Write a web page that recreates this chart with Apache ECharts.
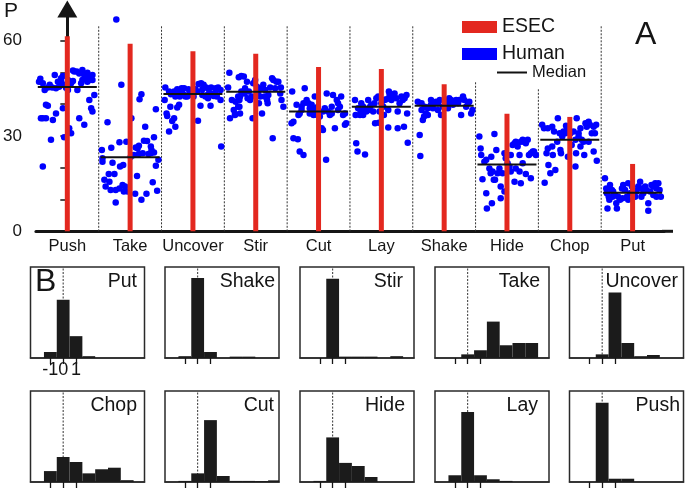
<!DOCTYPE html>
<html>
<head>
<meta charset="utf-8">
<script src="https://cdn.jsdelivr.net/npm/echarts@6/dist/echarts.min.js"></script>
<style>
html,body{margin:0;padding:0;background:#fff;}
#chart{width:685px;height:489px;}
</style>
</head>
<body>
<div id="chart"></div>
<script>
const FONT = '"Liberation Sans", Arial, Helvetica, sans-serif';
const INK = '#151515';

// ---------- Panel A data ----------
const categories = ['Push','Take','Uncover','Stir','Cut','Lay','Shake','Hide','Chop','Put'];
const esecValues = [61.4, 59.0, 56.7, 55.9, 51.7, 51.1, 46.3, 37.0, 36.0, 21.2];
const medianValues = [45.4, 23.3, 43.2, 43.9, 37.7, 39.2, 39.5, 21.0, 28.8, 12.1];
const dividerTops = [64.9, 64.9, 64.9, 64.9, 64.9, 64.9, 47.0, 45.1, 64.9];
const yTickValues = [0, 10, 20, 30, 40, 50, 60];
const yTickLabels = [0, 30, 60];

// human scores per action: [offset within category, P]
const humanPush = [[-0.43,48.0],[-0.45,47.1],[-0.39,46.6],[-0.36,44.5],[-0.28,46.1],[-0.20,49.2],[-0.15,47.1],[-0.10,48.2],[-0.07,48.9],[-0.13,45.5],[-0.18,45.0],[-0.24,45.3],[-0.31,45.3],[-0.05,46.1],[0.03,47.1],[0.09,50.6],[0.11,50.3],[0.15,50.3],[0.19,49.7],[0.24,50.8],[0.27,49.2],[0.32,49.9],[0.36,48.7],[0.40,49.2],[0.35,47.6],[0.30,48.2],[0.22,46.6],[0.16,44.5],[0.09,47.3],[0.06,46.6],[0.01,44.5],[-0.02,45.2],[0.43,42.9],[0.35,41.3],[0.38,38.7],[0.40,37.7],[0.27,33.5],[0.19,35.6],[0.03,32.4],[0.06,30.9],[-0.05,29.6],[-0.07,38.7],[-0.18,37.1],[-0.34,39.8],[-0.31,39.5],[-0.39,35.6],[-0.34,35.6],[-0.23,35.0],[-0.26,28.8],[-0.39,20.4],[-0.42,35.6],[-0.10,47.1],[0.01,47.6],[0.32,47.1],[0.40,47.6],[0.24,47.6]];
const humanTake = [[-0.22,66.7],[-0.14,46.1],[0.18,43.1],[0.15,41.6],[0.41,38.4],[0.02,35.6],[-0.36,34.3],[0.24,32.9],[-0.17,28.0],[-0.06,28.2],[0.09,26.4],[0.14,26.9],[0.12,26.1],[0.22,28.5],[0.27,28.4],[0.33,26.7],[0.38,29.6],[0.34,25.6],[-0.45,25.6],[-0.44,23.0],[-0.30,26.3],[-0.28,21.6],[-0.41,16.2],[-0.34,18.0],[-0.25,18.0],[-0.33,15.6],[-0.39,14.1],[-0.31,13.0],[-0.23,13.0],[-0.17,13.5],[-0.12,14.6],[-0.08,14.1],[-0.04,12.5],[-0.10,12.5],[0.08,11.8],[0.18,9.9],[0.26,11.8],[-0.23,9.1],[0.01,23.5],[0.06,24.0],[0.14,24.3],[0.20,24.6],[0.29,24.3],[0.33,24.6],[0.38,24.8],[0.41,20.6],[0.45,22.5],[0.43,12.8],[0.36,15.4],[-0.16,20.4],[-0.11,20.9],[0.11,17.4],[-0.44,21.9]];
const humanUncover = [[-0.44,45.3],[-0.45,41.3],[-0.42,37.1],[-0.38,31.4],[-0.41,36.3],[-0.36,39.2],[-0.33,34.7],[-0.30,35.6],[-0.28,32.9],[-0.25,39.0],[-0.22,39.8],[-0.35,43.1],[-0.30,44.0],[-0.25,44.7],[-0.17,44.5],[-0.14,42.9],[-0.12,42.4],[-0.18,45.0],[-0.22,43.7],[-0.09,42.4],[-0.07,42.9],[-0.04,44.0],[-0.01,44.5],[0.04,44.7],[0.09,46.4],[0.13,46.6],[0.17,46.1],[0.21,45.3],[0.25,44.7],[0.29,45.3],[0.36,45.0],[0.40,45.3],[0.44,44.5],[0.38,42.4],[0.33,42.6],[0.28,43.4],[0.23,42.9],[0.15,42.9],[0.07,44.0],[0.01,42.4],[0.08,34.8],[0.12,39.5],[0.28,39.5],[0.44,41.3],[0.45,26.7],[0.20,42.4],[-0.28,42.4],[-0.21,42.4],[-0.38,44.0],[-0.14,45.0],[-0.07,44.7],[0.24,41.9],[0.15,44.7],[0.36,43.7]];
const humanStir = [[-0.42,49.9],[-0.44,45.3],[-0.38,41.3],[-0.35,38.2],[-0.41,35.6],[-0.33,36.9],[-0.26,39.2],[-0.25,37.1],[-0.27,48.5],[-0.23,48.9],[-0.32,40.8],[-0.28,39.2],[-0.33,36.6],[-0.26,41.3],[-0.23,44.0],[-0.19,48.7],[-0.17,45.0],[-0.14,47.1],[-0.11,44.0],[-0.13,41.9],[-0.09,41.3],[-0.06,42.4],[-0.04,46.6],[-0.01,47.6],[0.02,45.5],[0.04,44.0],[0.07,42.4],[0.10,45.0],[0.12,46.1],[0.15,44.5],[0.18,41.3],[0.20,42.9],[0.23,45.3],[0.26,48.2],[0.28,47.6],[0.31,45.0],[0.33,47.1],[0.36,47.1],[0.39,43.4],[0.41,41.3],[0.44,39.2],[0.40,45.3],[-0.28,42.4],[-0.05,35.6],[0.10,37.1],[0.27,29.3],[-0.18,43.4],[0.19,40.3],[-0.25,42.4],[0.05,40.3],[0.14,42.4]];
const humanCut = [[-0.42,44.0],[-0.35,39.8],[-0.40,34.5],[-0.43,34.0],[-0.32,36.6],[-0.30,37.1],[-0.27,39.2],[-0.24,40.3],[-0.22,45.0],[-0.19,41.3],[-0.16,40.3],[-0.14,38.7],[-0.11,39.8],[-0.08,36.6],[-0.06,42.4],[-0.03,38.2],[-0.02,36.6],[0.02,36.1],[0.05,32.4],[0.07,31.9],[0.10,38.7],[0.13,43.4],[0.15,37.7],[0.18,36.6],[0.21,39.2],[0.23,42.9],[0.26,32.4],[0.29,41.3],[0.31,38.2],[0.34,39.2],[0.36,42.4],[0.39,36.6],[0.42,33.5],[0.44,34.0],[0.07,37.7],[-0.40,29.3],[-0.33,29.0],[-0.30,25.1],[-0.24,24.0],[0.12,22.5],[-0.08,38.7],[-0.14,37.1],[-0.27,38.2],[-0.01,39.2],[0.21,37.1],[0.31,40.3],[0.42,37.1]];
const humanLay = [[-0.42,41.3],[-0.41,36.6],[-0.40,27.7],[-0.38,25.1],[-0.26,24.2],[-0.37,38.7],[-0.34,36.6],[-0.32,40.3],[-0.29,36.6],[-0.26,38.4],[-0.24,37.7],[-0.21,41.3],[-0.18,39.2],[-0.16,39.8],[-0.13,37.7],[-0.11,40.3],[-0.08,41.9],[-0.05,42.4],[-0.04,34.2],[-0.03,37.7],[0,40.3],[0.03,39.2],[0.05,41.3],[0.08,41.6],[0.11,38.2],[0.12,44.0],[0.13,42.9],[0.16,41.3],[0.18,42.4],[0.21,43.4],[0.24,41.9],[0.26,37.7],[0.29,40.3],[0.32,42.4],[0.34,41.3],[0.37,41.9],[0.40,42.9],[0.41,37.1],[0.42,27.9],[0.26,32.4],[0.11,32.7],[0.36,32.9],[0.04,36.6],[-0.10,34.0],[-0.20,38.2],[-0.33,37.7],[-0.29,39.2]];
const humanShake = [[-0.42,40.8],[-0.39,30.3],[-0.38,23.7],[-0.36,38.2],[-0.34,35.0],[-0.32,36.1],[-0.31,39.2],[-0.29,37.1],[-0.26,36.6],[-0.23,39.2],[-0.21,41.3],[-0.18,38.7],[-0.15,40.3],[-0.13,40.8],[-0.10,40.3],[-0.07,41.3],[-0.05,36.6],[-0.02,39.2],[0.01,40.8],[0.03,39.2],[0.06,40.3],[0.08,41.9],[0.11,41.3],[0.14,39.8],[0.16,40.8],[0.19,41.3],[0.22,40.3],[0.24,41.3],[0.27,36.6],[0.30,42.4],[0.32,41.3],[0.35,39.2],[0.38,40.3],[0.40,40.8],[-0.26,38.7],[-0.10,38.2],[0.06,38.7],[-0.21,39.8],[-0.36,40.3],[0.45,38.2],[0.43,37.1]];
const humanHide = [[-0.44,29.8],[-0.42,26.1],[-0.41,24.0],[-0.39,16.4],[-0.36,21.9],[-0.33,12.0],[-0.32,7.2],[-0.28,19.8],[-0.26,18.3],[-0.24,8.8],[-0.23,18.8],[-0.20,30.6],[-0.19,16.2],[-0.17,25.6],[-0.15,18.3],[-0.12,19.8],[-0.10,10.4],[-0.07,18.3],[-0.04,24.6],[-0.02,23.0],[0.01,24.0],[0.04,20.4],[0.06,24.0],[0.09,27.2],[0.12,27.7],[0.14,28.2],[0.17,26.7],[0.20,24.0],[0.22,28.2],[0.25,28.8],[0.27,28.2],[0.30,27.7],[0.33,28.8],[0.35,24.0],[0.38,24.6],[0.41,25.1],[0.43,25.1],[0.46,24.0],[0.38,16.7],[0.30,18.0],[0.22,15.1],[0.20,18.8],[0.14,19.8],[0.12,15.6],[0.06,18.8],[-0.04,12.5],[-0.10,14.1],[-0.21,16.2],[0.01,21.4],[0.25,21.4],[-0.33,22.5],[-0.25,23.5]];
const humanChop = [[-0.44,33.5],[-0.41,32.4],[-0.40,15.3],[-0.37,24.6],[-0.35,32.4],[-0.34,20.9],[-0.31,18.3],[-0.28,32.9],[-0.27,24.0],[-0.25,31.4],[-0.23,19.3],[-0.20,28.2],[-0.19,35.6],[-0.16,30.9],[-0.14,24.6],[-0.12,29.8],[-0.10,31.4],[-0.07,30.9],[-0.06,33.2],[-0.03,23.5],[-0.02,32.4],[0.01,30.9],[0.03,27.2],[0.06,31.4],[0.09,20.4],[0.10,24.6],[0.11,35.6],[0.14,29.8],[0.17,32.4],[0.19,28.8],[0.22,28.2],[0.23,24.0],[0.25,34.0],[0.27,32.9],[0.30,34.5],[0.32,33.5],[0.35,30.9],[0.38,32.9],[0.40,30.9],[0.42,33.5],[0.43,22.2],[0.38,25.1],[0.30,28.2],[0.17,26.7],[0.09,28.8],[-0.15,25.6],[-0.28,26.7],[-0.35,26.1],[-0.04,32.4],[0.14,30.9]];
const humanPut = [[-0.44,16.7],[-0.42,13.5],[-0.41,12.0],[-0.38,10.9],[-0.37,9.9],[-0.40,7.2],[-0.33,13.0],[-0.31,12.5],[-0.28,11.4],[-0.26,8.8],[-0.25,7.2],[-0.23,10.9],[-0.20,9.9],[-0.17,13.5],[-0.15,14.6],[-0.12,13.0],[-0.09,10.9],[-0.07,9.9],[-0.04,12.0],[-0.01,14.1],[0.01,13.0],[0.04,10.9],[0.06,12.5],[0.09,14.1],[0.12,15.6],[0.14,13.5],[0.17,12.0],[0.20,14.1],[0.22,13.0],[0.25,8.8],[0.25,6.5],[0.28,12.5],[0.30,14.6],[0.33,14.1],[0.36,15.1],[0.38,13.5],[0.41,15.1],[0.43,13.0],[0.45,10.9],[0.38,10.9],[0.33,11.4],[-0.36,14.6],[-0.32,10.9],[-0.07,15.1],[0.14,10.9],[-0.16,10.4]];
const humanByCategory = [humanPush, humanTake, humanUncover, humanStir, humanCut, humanLay, humanShake, humanHide, humanChop, humanPut];

// ---------- Panel B data (bin centre, relative frequency) ----------
const histPanels = ['Put','Shake','Stir','Take','Uncover','Chop','Cut','Hide','Lay','Push'];
const histPut     = [[-1,0.066],[0,0.64],[1,0.24],[2,0.02]];
const histShake   = [[-1,0.02],[0,0.88],[1,0.066],[3,0.015],[4,0.015]];
const histStir    = [[0,0.87],[1,0.015],[2,0.015],[3,0.015],[5,0.02]];
const histTake    = [[0,0.04],[1,0.085],[2,0.40],[3,0.14],[4,0.165],[5,0.165]];
const histUncover = [[0,0.04],[1,0.72],[2,0.165],[3,0.02],[4,0.033]];
const histChop    = [[-1,0.12],[0,0.275],[1,0.22],[2,0.095],[3,0.14],[4,0.157],[5,0.02]];
const histCut     = [[-1,0.012],[0,0.095],[1,0.68],[2,0.066],[3,0.012],[4,0.012],[5,0.01],[6,0.018]];
const histHide    = [[-1,0.012],[0,0.49],[1,0.21],[2,0.176],[3,0.055]];
const histLay     = [[-1,0.074],[0,0.77],[1,0.074],[2,0.03],[3,0.012]];
const histPushB   = [[0,0.87],[1,0.036],[2,0.036]];
const histData = [histPut, histShake, histStir, histTake, histUncover, histChop, histCut, histHide, histLay, histPushB];
const histTicks = [-1, 0, 1];
const histTickLabels = ['-1', '0', '1'];
const histZero = [[0, 1]];

// ---------- layout ----------
const boxLefts = [30.5, 165, 300, 435, 569.5];
const boxTops = [267, 391];
const boxW = 114, boxH = 91;
const labelRights = [137, 275, 403, 540, 678, 137, 274, 405, 538, 680];

const humanData = [];
humanByCategory.forEach((arr, i) => arr.forEach(p => humanData.push([i + p[0], p[1]])));

const grids = [{left: 33, right: 21, top: 8.9, bottom: 257.7}];
const xAxes = [
  {type: 'category', gridIndex: 0, data: categories, boundaryGap: true,
   axisLine: {lineStyle: {color: INK, width: 3}},
   axisTick: {show: false},
   axisLabel: {interval: 0, fontSize: 16.5, color: INK, fontFamily: FONT, margin: 7}},
  {type: 'value', gridIndex: 0, min: -0.5, max: 9.5, show: false}
];
const yAxes = [
  {type: 'value', gridIndex: 0, min: 0, max: 70,
   axisLine: {show: true, lineStyle: {color: INK, width: 3}, symbol: ['none', 'triangle'], symbolSize: [20, 17]},
   axisTick: {show: true, customValues: yTickValues, length: 7, lineStyle: {color: INK, width: 1.5}},
   axisLabel: {customValues: yTickLabels, fontSize: 17, color: INK, fontFamily: FONT, margin: 14},
   splitLine: {show: false}}
];

function medianRender(params, api) {
  const x = api.value(0), y = api.value(1);
  const a = api.coord([x - 0.47, y]);
  const b = api.coord([x + 0.47, y]);
  return {type: 'line', shape: {x1: a[0], y1: a[1], x2: b[0], y2: b[1]}, style: {stroke: '#111', lineWidth: 2}};
}
function vlineRender(params, api) {
  const x = api.value(0), top = api.value(1);
  const a = api.coord([x, 0]);
  const b = api.coord([x, top]);
  return {type: 'line', shape: {x1: a[0], y1: a[1], x2: b[0], y2: b[1]}, style: {stroke: '#333', lineWidth: 1, lineDash: [2, 1.5]}};
}
function histRender(params, api) {
  const x = api.value(0), h = api.value(1);
  const a = api.coord([x - 0.5, 0]);
  const b = api.coord([x + 0.5, h]);
  const cs = params.coordSys;
  const x0 = Math.max(a[0], cs.x), x1 = Math.min(b[0], cs.x + cs.width);
  return {type: 'rect', shape: {x: x0, y: b[1], width: x1 - x0, height: a[1] - b[1]}, style: {fill: '#1b1b1b'}};
}

const series = [
  {name: 'Dividers', type: 'custom', xAxisIndex: 1, yAxisIndex: 0, z: 1, silent: true,
   data: dividerTops.map((t, i) => [i + 0.5, t]), renderItem: vlineRender},
  {name: 'Human', type: 'scatter', xAxisIndex: 1, yAxisIndex: 0, z: 2, symbolSize: 6.5,
   itemStyle: {color: '#0000ff', opacity: 1}, data: humanData},
  {name: 'ESEC', type: 'bar', xAxisIndex: 0, yAxisIndex: 0, z: 3, barWidth: 5,
   itemStyle: {color: '#e3281f'}, data: esecValues},
  {name: 'Median', type: 'custom', xAxisIndex: 1, yAxisIndex: 0, z: 4,
   itemStyle: {color: '#111'}, data: medianValues.map((m, i) => [i, m]), renderItem: medianRender}
];

const titles = [
  {text: 'P', left: 4, top: 1, padding: 0, textStyle: {fontSize: 21, fontWeight: 'normal', color: INK, fontFamily: FONT}},
  {text: 'A', left: 635, top: 19, padding: 0, textStyle: {fontSize: 32, fontWeight: 'normal', color: INK, fontFamily: FONT}},
  {text: 'B', left: 35, top: 266, padding: 0, textStyle: {fontSize: 32, fontWeight: 'normal', color: INK, fontFamily: FONT}}
];

histPanels.forEach((name, k) => {
  const g = k + 1;          // grid index and y-axis index
  const xi = k + 2;         // x-axis index (grid 0 owns two x axes)
  const row = Math.floor(k / 5), col = k % 5;
  grids.push({left: boxLefts[col], top: boxTops[row], width: boxW, height: boxH,
    show: true, borderColor: '#2a2a2a', borderWidth: 1.5});
  xAxes.push({type: 'value', gridIndex: g, min: -2.55, max: 6.35,
    axisLine: {show: true, onZero: false, lineStyle: {color: '#2a2a2a', width: 1.5}},
    axisTick: {show: true, customValues: histTicks, length: 6, inside: false, lineStyle: {color: INK, width: 1.3}},
    axisLabel: {show: k === 0, customValues: histTicks, formatter: v => histTickLabels[histTicks.indexOf(v)],
      fontSize: 18, color: INK, fontFamily: FONT, margin: 3},
    splitLine: {show: false}});
  yAxes.push({type: 'value', gridIndex: g, min: 0, max: 1, show: false});
  series.push({name: 'zero' + g, type: 'custom', xAxisIndex: xi, yAxisIndex: g, z: 2, silent: true,
    data: histZero, renderItem: vlineRender});
  series.push({name: 'hist' + g, type: 'custom', xAxisIndex: xi, yAxisIndex: g, z: 3, silent: true,
    data: histData[k], renderItem: histRender});
  titles.push({text: name, right: 685 - labelRights[k], top: boxTops[row] + 5, padding: 0,
    textStyle: {fontSize: 19.5, fontWeight: 'normal', color: INK, fontFamily: FONT}});
});

const legendText = {color: INK, fontFamily: FONT};
const option = {
  animation: false,
  backgroundColor: '#fff',
  title: titles,
  legend: [
    {data: [{name: 'ESEC', icon: 'rect'}], left: 462, top: 17, padding: 0, itemWidth: 35, itemHeight: 12,
     selectedMode: false, textStyle: Object.assign({fontSize: 19.5}, legendText)},
    {data: [{name: 'Human', icon: 'rect'}], left: 462, top: 44, padding: 0, itemWidth: 35, itemHeight: 12,
     selectedMode: false, textStyle: Object.assign({fontSize: 19.5}, legendText)},
    {data: [{name: 'Median', icon: 'rect'}], left: 497, top: 64, padding: 0, itemWidth: 30, itemHeight: 2,
     selectedMode: false, textStyle: Object.assign({fontSize: 16.5}, legendText)}
  ],
  grid: grids,
  xAxis: xAxes,
  yAxis: yAxes,
  series: series,
  graphic: [
    {type: 'line', shape: {x1: 662, y1: 231.3, x2: 673, y2: 231.3}, style: {stroke: INK, lineWidth: 3}}
  ]
};

const chart = echarts.init(document.getElementById('chart'), null, {renderer: 'canvas'});
chart.setOption(option);
</script>
</body>
</html>
